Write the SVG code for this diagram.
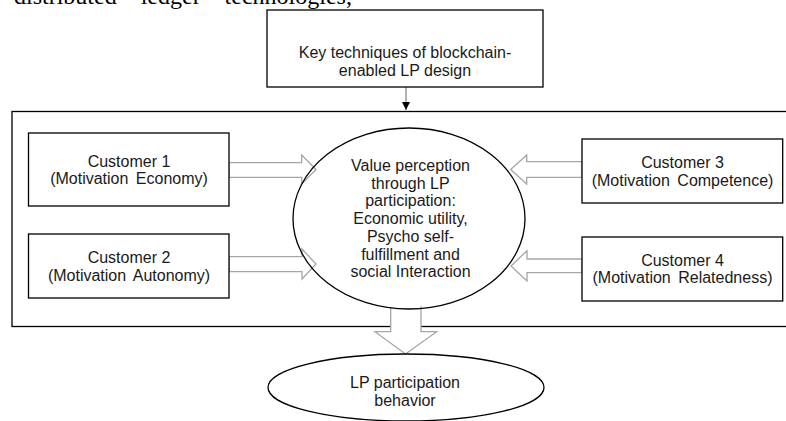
<svg xmlns="http://www.w3.org/2000/svg" width="786" height="421" viewBox="0 0 786 421">
<defs>
<style>
.box{fill:#fff;stroke:#000;stroke-width:1.3}
.el{fill:none;stroke:#000;stroke-width:1.3}
.frame{fill:none;stroke:#000;stroke-width:1.3}
.blk{fill:#fff;stroke:#a6a6a6;stroke-width:1.3;stroke-linejoin:miter}
.t{font-family:"Liberation Sans",Arial,sans-serif;font-size:16px;fill:#1a1a1a;text-anchor:middle}
.cut{font-family:"Liberation Serif","Times New Roman",serif;font-size:24px;fill:#000;word-spacing:18px}
</style>
<marker id="ah" viewBox="0 0 8 8" refX="8" refY="4" markerWidth="8" markerHeight="8" markerUnits="userSpaceOnUse" orient="auto">
<path d="M0,0 L8,4 L0,8 z" fill="#000"/>
</marker>
</defs>
<rect width="786" height="421" fill="#fff"/>
<text class="cut" x="14" y="3.5">distributed ledger technologies,</text>
<rect id="frame" class="frame" x="12" y="111.5" width="790" height="215"/>
<g id="connectors">
<line x1="406" y1="87" x2="406" y2="110" stroke="#808080" stroke-width="1.2" marker-end="url(#ah)"/>
<polygon class="blk" points="229,162.7 301.7,162.7 301.7,155 316,169.5 301.7,184 301.7,177.3 229,177.3"/>
<polygon class="blk" points="229,256.7 302,256.7 302,249 316,264 302,279 302,271.7 229,271.7"/>
<polygon class="blk" points="582,161.7 526.7,161.7 526.7,155 510.7,169.5 526.7,184 526.7,177.3 582,177.3"/>
<polygon class="blk" points="582,259 527,259 527,250.7 511,266 527,281 527,272.7 582,272.7"/>
<path class="blk" d="M390.7,307.5 L390.7,331.7 L375,331.7 L405.5,354 L436.7,331.7 L421,331.7 L421,306"/>
</g>
<g id="top">
<rect class="box" x="267" y="10" width="276" height="77"/>
<text class="t" x="405" y="58.3">Key techniques of blockchain-</text>
<text class="t" x="405" y="75.5">enabled LP design</text>
</g>
<g id="c1">
<rect class="box" x="28.5" y="133" width="200.5" height="73"/>
<text class="t" x="129" y="166.7">Customer 1</text>
<text class="t" x="129" y="184.3" word-spacing="3">(Motivation Economy)</text>
</g>
<g id="c2">
<rect class="box" x="28.5" y="234" width="200.5" height="64"/>
<text class="t" x="129" y="263.3">Customer 2</text>
<text class="t" x="129" y="281.3" word-spacing="3">(Motivation Autonomy)</text>
</g>
<g id="c3">
<rect class="box" x="582" y="139" width="200.7" height="64"/>
<text class="t" x="682.5" y="168.3">Customer 3</text>
<text class="t" x="682.5" y="185.5" word-spacing="3">(Motivation Competence)</text>
</g>
<g id="c4">
<rect class="box" x="582" y="237" width="200.7" height="64"/>
<text class="t" x="682.5" y="265.7">Customer 4</text>
<text class="t" x="682.5" y="283.3" word-spacing="3">(Motivation Relatedness)</text>
</g>
<g id="value">
<ellipse class="el" cx="409" cy="218.5" rx="116" ry="90.5"/>
<text class="t" x="410.5" y="171">Value perception</text>
<text class="t" x="410.5" y="188.7">through LP</text>
<text class="t" x="410.5" y="206.4">participation:</text>
<text class="t" x="410.5" y="224.1">Economic utility,</text>
<text class="t" x="410.5" y="241.8">Psycho self-</text>
<text class="t" x="410.5" y="259.5">fulfillment and</text>
<text class="t" x="410.5" y="277.2">social Interaction</text>
</g>
<g id="behavior">
<ellipse class="el" cx="406" cy="387.5" rx="138" ry="33.5"/>
<text class="t" x="405" y="388.3">LP participation</text>
<text class="t" x="405" y="405.5">behavior</text>
</g>
</svg>
